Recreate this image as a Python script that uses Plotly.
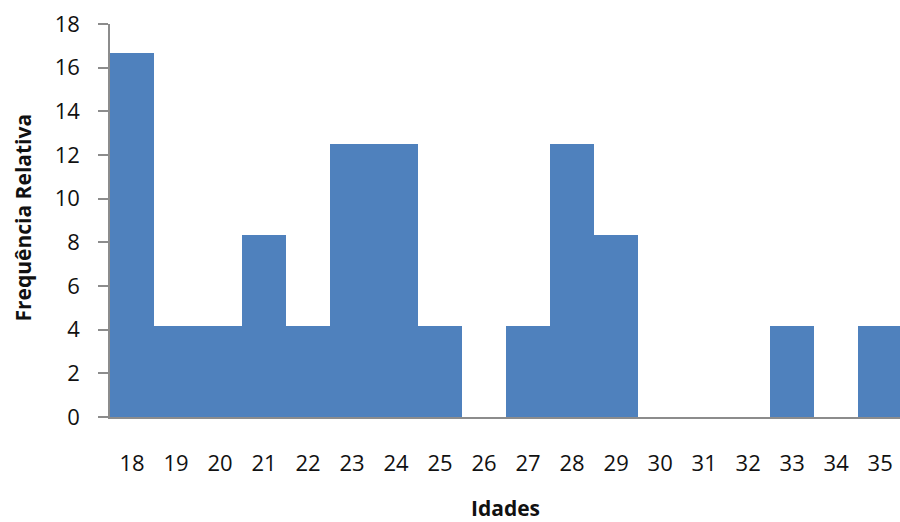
import plotly.graph_objects as go

idades = [str(i) for i in range(18, 36)]
freq_relativa = [16.67, 4.17, 4.17, 8.33, 4.17, 12.5, 12.5, 4.17, 0,
                 4.17, 12.5, 8.33, 0, 0, 0, 4.17, 0, 4.17]
y_ticks = list(range(0, 19, 2))

fig = go.Figure(go.Bar(
    x=idades, y=freq_relativa,
    marker=dict(color="#4F81BD", line=dict(width=0)),
))

font = "'Open Sans', Lato, sans-serif"
fig.update_layout(
    width=900, height=522,
    margin=dict(l=110, r=0, t=24, b=105),
    plot_bgcolor="white", paper_bgcolor="white",
    bargap=0, showlegend=False,
    font=dict(family=font, size=22, color="#111111"),
    xaxis=dict(
        type="category", range=[-0.5, 17.45],
        showline=True, linecolor="#8c8c8c", linewidth=1.5,
        ticks="", showgrid=False, ticklabelstandoff=26,
        tickfont=dict(size=22),
    ),
    yaxis=dict(
        range=[0, 18], tickvals=y_ticks,
        showline=True, linecolor="#8c8c8c", linewidth=1.5,
        ticks="outside", ticklen=10, tickcolor="#8c8c8c", tickwidth=1.5,
        showgrid=False, zeroline=False, ticklabelstandoff=14,
        tickfont=dict(size=22),
    ),
    annotations=[
        dict(text="<b>Idades</b>", x=0.5, y=0, xref="paper", yref="paper",
             xanchor="center", yanchor="middle", yshift=-91, showarrow=False,
             font=dict(size=21)),
        dict(text="<b>Frequência Relativa</b>", x=0, y=0.5, xref="paper", yref="paper",
             xanchor="center", yanchor="middle", xshift=-88, yshift=3, textangle=-90,
             showarrow=False, font=dict(size=21)),
    ],
)

fig.write_html("out.html")
